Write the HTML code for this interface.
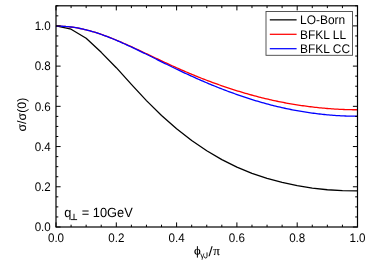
<!DOCTYPE html>
<html><head><meta charset="utf-8">
<style>
html,body{margin:0;padding:0;background:#fff;}
body{width:374px;height:270px;overflow:hidden;}
svg{display:block;will-change:transform;}
text{font-family:"Liberation Sans",sans-serif;fill:#000;text-rendering:geometricPrecision;}
.t text{font-size:11.6px;}
.sym{font-family:"Liberation Serif",serif;}
</style></head><body>
<svg width="374" height="270" viewBox="0 0 374 270">
<rect width="374" height="270" fill="#fff"/>
<g fill="none" stroke-linejoin="round" stroke-linecap="butt">
<path d="M56.00,25.86 L71.08,29.21 L86.15,38.31 L101.23,52.35 L116.30,67.68 L131.38,84.36 L146.45,100.59 L161.53,115.48 L176.60,128.75 L191.68,140.44 L206.75,150.70 L221.83,159.59 L236.90,167.13 L251.97,173.33 L267.05,178.30 L282.12,182.28 L297.20,185.57 L312.28,188.14 L327.35,189.73 L342.43,190.61 L357.50,190.93" stroke="#000" stroke-width="1.3"/>
<path d="M56.00,26.18 L57.52,26.17 L59.03,26.19 L60.55,26.23 L62.06,26.29 L63.58,26.36 L65.09,26.46 L66.61,26.58 L68.12,26.72 L69.64,26.88 L71.15,27.06 L72.67,27.26 L74.18,27.48 L75.70,27.71 L77.21,27.97 L78.73,28.25 L80.24,28.54 L81.76,28.86 L83.27,29.19 L84.79,29.54 L86.30,29.91 L87.82,30.29 L89.33,30.69 L90.85,31.11 L92.36,31.54 L93.88,31.99 L95.39,32.45 L96.91,32.93 L98.42,33.42 L99.94,33.93 L101.45,34.45 L102.97,34.98 L104.48,35.52 L106.00,36.07 L107.51,36.64 L109.03,37.22 L110.54,37.80 L112.06,38.40 L113.57,39.01 L115.09,39.62 L116.60,40.25 L118.12,40.88 L119.63,41.52 L121.15,42.17 L122.66,42.83 L124.18,43.49 L125.69,44.15 L127.21,44.83 L128.72,45.51 L130.24,46.19 L131.75,46.88 L133.27,47.57 L134.78,48.27 L136.30,48.97 L137.81,49.67 L139.33,50.38 L140.84,51.09 L142.36,51.80 L143.87,52.51 L145.39,53.23 L146.90,53.94 L148.42,54.66 L149.93,55.37 L151.45,56.09 L152.96,56.81 L154.48,57.52 L155.99,58.24 L157.51,58.95 L159.03,59.67 L160.54,60.38 L162.06,61.09 L163.57,61.80 L165.09,62.50 L166.60,63.20 L168.12,63.90 L169.63,64.60 L171.15,65.30 L172.66,65.99 L174.18,66.67 L175.69,67.35 L177.21,68.03 L178.72,68.71 L180.24,69.38 L181.75,70.04 L183.27,70.70 L184.78,71.36 L186.30,72.01 L187.81,72.66 L189.33,73.30 L190.84,73.94 L192.36,74.57 L193.87,75.20 L195.39,75.82 L196.90,76.43 L198.42,77.04 L199.93,77.65 L201.45,78.25 L202.96,78.84 L204.48,79.43 L205.99,80.01 L207.51,80.59 L209.02,81.16 L210.54,81.73 L212.05,82.29 L213.57,82.84 L215.08,83.39 L216.60,83.94 L218.11,84.48 L219.63,85.01 L221.14,85.54 L222.66,86.07 L224.17,86.58 L225.69,87.10 L227.20,87.60 L228.72,88.11 L230.23,88.60 L231.75,89.09 L233.26,89.58 L234.78,90.06 L236.29,90.54 L237.81,91.01 L239.32,91.47 L240.84,91.93 L242.35,92.39 L243.87,92.84 L245.38,93.28 L246.90,93.72 L248.41,94.15 L249.93,94.58 L251.44,95.00 L252.96,95.41 L254.47,95.82 L255.99,96.23 L257.51,96.63 L259.02,97.02 L260.54,97.40 L262.05,97.78 L263.57,98.16 L265.08,98.53 L266.60,98.89 L268.11,99.24 L269.63,99.59 L271.14,99.94 L272.66,100.27 L274.17,100.60 L275.69,100.93 L277.20,101.25 L278.72,101.56 L280.23,101.87 L281.75,102.17 L283.26,102.46 L284.78,102.75 L286.29,103.03 L287.81,103.31 L289.32,103.58 L290.84,103.84 L292.35,104.10 L293.87,104.35 L295.38,104.60 L296.90,104.84 L298.41,105.07 L299.93,105.30 L301.44,105.53 L302.96,105.75 L304.47,105.96 L305.99,106.17 L307.50,106.37 L309.02,106.56 L310.53,106.75 L312.05,106.94 L313.56,107.12 L315.08,107.29 L316.59,107.46 L318.11,107.62 L319.62,107.78 L321.14,107.93 L322.65,108.08 L324.17,108.22 L325.68,108.35 L327.20,108.48 L328.71,108.61 L330.23,108.72 L331.74,108.83 L333.26,108.94 L334.77,109.04 L336.29,109.13 L337.80,109.22 L339.32,109.30 L340.83,109.37 L342.35,109.44 L343.86,109.50 L345.38,109.56 L346.89,109.60 L348.41,109.65 L349.92,109.68 L351.44,109.71 L352.95,109.73 L354.47,109.75 L355.98,109.75 L357.50,109.76" stroke="#f00" stroke-width="1.3"/>
<path d="M56.00,26.13 L57.52,26.12 L59.03,26.14 L60.55,26.18 L62.06,26.24 L63.58,26.31 L65.09,26.41 L66.61,26.53 L68.12,26.67 L69.64,26.83 L71.15,27.01 L72.67,27.22 L74.18,27.44 L75.70,27.68 L77.21,27.94 L78.73,28.22 L80.24,28.51 L81.76,28.83 L83.27,29.17 L84.79,29.52 L86.30,29.89 L87.82,30.28 L89.33,30.68 L90.85,31.11 L92.36,31.54 L93.88,32.00 L95.39,32.47 L96.91,32.95 L98.42,33.45 L99.94,33.96 L101.45,34.49 L102.97,35.03 L104.48,35.58 L106.00,36.14 L107.51,36.72 L109.03,37.31 L110.54,37.91 L112.06,38.52 L113.57,39.13 L115.09,39.76 L116.60,40.40 L118.12,41.05 L119.63,41.70 L121.15,42.37 L122.66,43.04 L124.18,43.72 L125.69,44.41 L127.21,45.10 L128.72,45.80 L130.24,46.50 L131.75,47.21 L133.27,47.93 L134.78,48.65 L136.30,49.37 L137.81,50.10 L139.33,50.83 L140.84,51.57 L142.36,52.31 L143.87,53.05 L145.39,53.79 L146.90,54.54 L148.42,55.29 L149.93,56.04 L151.45,56.79 L152.96,57.54 L154.48,58.29 L155.99,59.04 L157.51,59.80 L159.03,60.55 L160.54,61.30 L162.06,62.05 L163.57,62.80 L165.09,63.55 L166.60,64.29 L168.12,65.04 L169.63,65.78 L171.15,66.52 L172.66,67.26 L174.18,67.99 L175.69,68.72 L177.21,69.45 L178.72,70.18 L180.24,70.90 L181.75,71.62 L183.27,72.33 L184.78,73.04 L186.30,73.75 L187.81,74.45 L189.33,75.15 L190.84,75.84 L192.36,76.53 L193.87,77.21 L195.39,77.89 L196.90,78.56 L198.42,79.23 L199.93,79.90 L201.45,80.56 L202.96,81.21 L204.48,81.86 L205.99,82.51 L207.51,83.15 L209.02,83.78 L210.54,84.41 L212.05,85.03 L213.57,85.65 L215.08,86.27 L216.60,86.88 L218.11,87.48 L219.63,88.08 L221.14,88.67 L222.66,89.26 L224.17,89.84 L225.69,90.42 L227.20,90.99 L228.72,91.55 L230.23,92.11 L231.75,92.67 L233.26,93.22 L234.78,93.76 L236.29,94.30 L237.81,94.83 L239.32,95.36 L240.84,95.88 L242.35,96.40 L243.87,96.91 L245.38,97.41 L246.90,97.91 L248.41,98.40 L249.93,98.89 L251.44,99.37 L252.96,99.84 L254.47,100.31 L255.99,100.77 L257.51,101.23 L259.02,101.67 L260.54,102.11 L262.05,102.55 L263.57,102.98 L265.08,103.40 L266.60,103.81 L268.11,104.22 L269.63,104.62 L271.14,105.01 L272.66,105.40 L274.17,105.78 L275.69,106.15 L277.20,106.51 L278.72,106.87 L280.23,107.22 L281.75,107.57 L283.26,107.91 L284.78,108.24 L286.29,108.56 L287.81,108.88 L289.32,109.19 L290.84,109.49 L292.35,109.79 L293.87,110.07 L295.38,110.36 L296.90,110.63 L298.41,110.90 L299.93,111.17 L301.44,111.42 L302.96,111.67 L304.47,111.92 L305.99,112.15 L307.50,112.38 L309.02,112.61 L310.53,112.83 L312.05,113.04 L313.56,113.24 L315.08,113.44 L316.59,113.63 L318.11,113.82 L319.62,114.00 L321.14,114.17 L322.65,114.33 L324.17,114.49 L325.68,114.65 L327.20,114.79 L328.71,114.93 L330.23,115.06 L331.74,115.19 L333.26,115.31 L334.77,115.42 L336.29,115.53 L337.80,115.62 L339.32,115.71 L340.83,115.80 L342.35,115.87 L343.86,115.94 L345.38,116.01 L346.89,116.06 L348.41,116.11 L349.92,116.15 L351.44,116.18 L352.95,116.20 L354.47,116.22 L355.98,116.23 L357.50,116.23" stroke="#00f" stroke-width="1.3"/>
</g>
<g stroke="#000" stroke-width="1" fill="none">
<line x1="56.00" y1="227.0" x2="56.00" y2="222.4"/>
<line x1="56.00" y1="5.8" x2="56.00" y2="10.399999999999999"/>
<line x1="71.08" y1="227.0" x2="71.08" y2="224.7"/>
<line x1="71.08" y1="5.8" x2="71.08" y2="8.1"/>
<line x1="86.15" y1="227.0" x2="86.15" y2="224.7"/>
<line x1="86.15" y1="5.8" x2="86.15" y2="8.1"/>
<line x1="101.22" y1="227.0" x2="101.22" y2="224.7"/>
<line x1="101.22" y1="5.8" x2="101.22" y2="8.1"/>
<line x1="116.30" y1="227.0" x2="116.30" y2="222.4"/>
<line x1="116.30" y1="5.8" x2="116.30" y2="10.399999999999999"/>
<line x1="131.38" y1="227.0" x2="131.38" y2="224.7"/>
<line x1="131.38" y1="5.8" x2="131.38" y2="8.1"/>
<line x1="146.45" y1="227.0" x2="146.45" y2="224.7"/>
<line x1="146.45" y1="5.8" x2="146.45" y2="8.1"/>
<line x1="161.53" y1="227.0" x2="161.53" y2="224.7"/>
<line x1="161.53" y1="5.8" x2="161.53" y2="8.1"/>
<line x1="176.60" y1="227.0" x2="176.60" y2="222.4"/>
<line x1="176.60" y1="5.8" x2="176.60" y2="10.399999999999999"/>
<line x1="191.68" y1="227.0" x2="191.68" y2="224.7"/>
<line x1="191.68" y1="5.8" x2="191.68" y2="8.1"/>
<line x1="206.75" y1="227.0" x2="206.75" y2="224.7"/>
<line x1="206.75" y1="5.8" x2="206.75" y2="8.1"/>
<line x1="221.82" y1="227.0" x2="221.82" y2="224.7"/>
<line x1="221.82" y1="5.8" x2="221.82" y2="8.1"/>
<line x1="236.90" y1="227.0" x2="236.90" y2="222.4"/>
<line x1="236.90" y1="5.8" x2="236.90" y2="10.399999999999999"/>
<line x1="251.97" y1="227.0" x2="251.97" y2="224.7"/>
<line x1="251.97" y1="5.8" x2="251.97" y2="8.1"/>
<line x1="267.05" y1="227.0" x2="267.05" y2="224.7"/>
<line x1="267.05" y1="5.8" x2="267.05" y2="8.1"/>
<line x1="282.12" y1="227.0" x2="282.12" y2="224.7"/>
<line x1="282.12" y1="5.8" x2="282.12" y2="8.1"/>
<line x1="297.20" y1="227.0" x2="297.20" y2="222.4"/>
<line x1="297.20" y1="5.8" x2="297.20" y2="10.399999999999999"/>
<line x1="312.27" y1="227.0" x2="312.27" y2="224.7"/>
<line x1="312.27" y1="5.8" x2="312.27" y2="8.1"/>
<line x1="327.35" y1="227.0" x2="327.35" y2="224.7"/>
<line x1="327.35" y1="5.8" x2="327.35" y2="8.1"/>
<line x1="342.43" y1="227.0" x2="342.43" y2="224.7"/>
<line x1="342.43" y1="5.8" x2="342.43" y2="8.1"/>
<line x1="357.50" y1="227.0" x2="357.50" y2="222.4"/>
<line x1="357.50" y1="5.8" x2="357.50" y2="10.399999999999999"/>
<line x1="56.0" y1="227.00" x2="60.6" y2="227.00"/>
<line x1="357.5" y1="227.00" x2="352.9" y2="227.00"/>
<line x1="56.0" y1="216.94" x2="58.3" y2="216.94"/>
<line x1="357.5" y1="216.94" x2="355.2" y2="216.94"/>
<line x1="56.0" y1="206.89" x2="58.3" y2="206.89"/>
<line x1="357.5" y1="206.89" x2="355.2" y2="206.89"/>
<line x1="56.0" y1="196.84" x2="58.3" y2="196.84"/>
<line x1="357.5" y1="196.84" x2="355.2" y2="196.84"/>
<line x1="56.0" y1="186.78" x2="60.6" y2="186.78"/>
<line x1="357.5" y1="186.78" x2="352.9" y2="186.78"/>
<line x1="56.0" y1="176.72" x2="58.3" y2="176.72"/>
<line x1="357.5" y1="176.72" x2="355.2" y2="176.72"/>
<line x1="56.0" y1="166.67" x2="58.3" y2="166.67"/>
<line x1="357.5" y1="166.67" x2="355.2" y2="166.67"/>
<line x1="56.0" y1="156.62" x2="58.3" y2="156.62"/>
<line x1="357.5" y1="156.62" x2="355.2" y2="156.62"/>
<line x1="56.0" y1="146.56" x2="60.6" y2="146.56"/>
<line x1="357.5" y1="146.56" x2="352.9" y2="146.56"/>
<line x1="56.0" y1="136.50" x2="58.3" y2="136.50"/>
<line x1="357.5" y1="136.50" x2="355.2" y2="136.50"/>
<line x1="56.0" y1="126.45" x2="58.3" y2="126.45"/>
<line x1="357.5" y1="126.45" x2="355.2" y2="126.45"/>
<line x1="56.0" y1="116.40" x2="58.3" y2="116.40"/>
<line x1="357.5" y1="116.40" x2="355.2" y2="116.40"/>
<line x1="56.0" y1="106.34" x2="60.6" y2="106.34"/>
<line x1="357.5" y1="106.34" x2="352.9" y2="106.34"/>
<line x1="56.0" y1="96.29" x2="58.3" y2="96.29"/>
<line x1="357.5" y1="96.29" x2="355.2" y2="96.29"/>
<line x1="56.0" y1="86.23" x2="58.3" y2="86.23"/>
<line x1="357.5" y1="86.23" x2="355.2" y2="86.23"/>
<line x1="56.0" y1="76.18" x2="58.3" y2="76.18"/>
<line x1="357.5" y1="76.18" x2="355.2" y2="76.18"/>
<line x1="56.0" y1="66.12" x2="60.6" y2="66.12"/>
<line x1="357.5" y1="66.12" x2="352.9" y2="66.12"/>
<line x1="56.0" y1="56.06" x2="58.3" y2="56.06"/>
<line x1="357.5" y1="56.06" x2="355.2" y2="56.06"/>
<line x1="56.0" y1="46.01" x2="58.3" y2="46.01"/>
<line x1="357.5" y1="46.01" x2="355.2" y2="46.01"/>
<line x1="56.0" y1="35.95" x2="58.3" y2="35.95"/>
<line x1="357.5" y1="35.95" x2="355.2" y2="35.95"/>
<line x1="56.0" y1="25.90" x2="60.6" y2="25.90"/>
<line x1="357.5" y1="25.90" x2="352.9" y2="25.90"/>
<line x1="56.0" y1="15.85" x2="58.3" y2="15.85"/>
<line x1="357.5" y1="15.85" x2="355.2" y2="15.85"/>
<line x1="56.0" y1="5.79" x2="58.3" y2="5.79"/>
<line x1="357.5" y1="5.79" x2="355.2" y2="5.79"/>
</g>
<rect x="56.0" y="5.8" width="301.5" height="221.2" fill="none" stroke="#000" stroke-width="1.2"/>
<g class="t">
<text transform="translate(56.00,241.6) scale(1,1.07)" text-anchor="middle">0.0</text>
<text transform="translate(50.8,231.20) scale(1,1.07)" text-anchor="end">0.0</text>
<text transform="translate(116.30,241.6) scale(1,1.07)" text-anchor="middle">0.2</text>
<text transform="translate(50.8,190.98) scale(1,1.07)" text-anchor="end">0.2</text>
<text transform="translate(176.60,241.6) scale(1,1.07)" text-anchor="middle">0.4</text>
<text transform="translate(50.8,150.76) scale(1,1.07)" text-anchor="end">0.4</text>
<text transform="translate(236.90,241.6) scale(1,1.07)" text-anchor="middle">0.6</text>
<text transform="translate(50.8,110.54) scale(1,1.07)" text-anchor="end">0.6</text>
<text transform="translate(297.20,241.6) scale(1,1.07)" text-anchor="middle">0.8</text>
<text transform="translate(50.8,70.32) scale(1,1.07)" text-anchor="end">0.8</text>
<text transform="translate(357.50,241.6) scale(1,1.07)" text-anchor="middle">1.0</text>
<text transform="translate(50.8,30.10) scale(1,1.07)" text-anchor="end">1.0</text>
</g>
<!-- legend -->
<rect x="266" y="11.5" width="86.5" height="43.8" fill="#fff" stroke="#444" stroke-width="0.9"/>
<g stroke-width="1.25">
<line x1="269.8" y1="19.85" x2="296.6" y2="19.85" stroke="#000"/>
<line x1="269.8" y1="34.3" x2="296.6" y2="34.3" stroke="#f00"/>
<line x1="269.8" y1="48.7" x2="296.6" y2="48.7" stroke="#00f"/>
</g>
<g font-size="11.95px">
<text transform="translate(300.1,24.1) scale(1,1.05)">LO-Born</text>
<text transform="translate(300.1,38.5) scale(1,1.05)">BFKL LL</text>
<text transform="translate(300.1,52.9) scale(1,1.05)">BFKL CC</text>
</g>
<!-- annotation -->
<text transform="translate(64.3,216.7) scale(1,1.04)" font-size="12.8px">q</text>
<path d="M70.9,219.6 H77.1 M74,219.6 V213.8" stroke="#000" stroke-width="0.9" fill="none"/>
<text transform="translate(81.8,216.7) scale(1,1.04)" font-size="12.8px">= 10GeV</text>
<!-- x label -->
<path d="M194.35,251.7 A3.0,3.0 0 1,0 200.35,251.7 A3.0,3.0 0 1,0 194.35,251.7 Z M195.55,251.7 A1.8,2.4 0 1,0 199.15,251.7 A1.8,2.4 0 1,0 195.55,251.7 Z" fill="#000" fill-rule="evenodd"/>
<line x1="197.4" y1="246.2" x2="197.4" y2="257.6" stroke="#000" stroke-width="1.0"/>
<text x="200.3" y="258.3" font-size="8.4px">γ</text>
<path d="M207.0,252.4 V256.5 Q207.0,258.0 205.6,258.0 Q204.3,258.0 204.2,256.4" fill="none" stroke="#000" stroke-width="0.9"/>
<text transform="translate(208.6,255.5) scale(1.1,1)" font-size="13.6px">/</text>
<text x="213.3" y="255.4" font-size="13.2px" class="sym" stroke="#000" stroke-width="0.12">π</text>
<!-- y label -->
<text transform="translate(26.3,114.6) rotate(-90)" text-anchor="middle" font-size="12.4px">σ/σ(0)</text>
</svg>
</body></html>
